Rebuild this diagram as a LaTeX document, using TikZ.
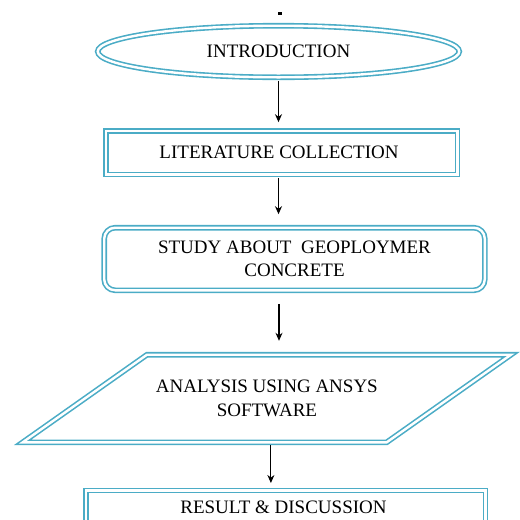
\documentclass[tikz,border=0pt]{standalone}
\usepackage{fontspec}
\setmainfont{Liberation Serif}
\usetikzlibrary{shapes.geometric,arrows.meta}
\definecolor{aqua}{HTML}{4BACC6}
\tikzset{
  dbl/.style={draw=aqua, line width=1.6pt, double=white, double distance=2.4pt},
  txt/.style={font=\fontsize{19}{23.5}\selectfont, align=center, inner sep=0pt},
  arr/.style={draw=black, line width=1.1pt, -{Stealth[length=8pt,width=7pt]}},
}
\begin{document}
\begin{tikzpicture}[x=1pt,y=-1pt]
\useasboundingbox (0,0) rectangle (520,520);
\fill[black] (277.5,12) rectangle (281.5,14.5);
\node[dbl, txt, ellipse, minimum width=361.6pt, minimum height=51.6pt] (intro) at (278.5,51.5) {INTRODUCTION};
\node[dbl, txt, rectangle, minimum width=351.6pt, minimum height=43.6pt] (lit) at (281.5,152.5) {\hspace*{-5pt}LITERATURE COLLECTION};
\node[dbl, txt, rectangle, rounded corners=11pt, minimum width=380.6pt, minimum height=62.6pt] (study) at (294.5,259) {STUDY ABOUT\ \ GEOPLOYMER\\CONCRETE};
\node[txt, rectangle, minimum width=300pt, minimum height=87.6pt] (ana) at (266.9,398.5) {ANALYSIS USING ANSYS\\SOFTWARE};
\draw[dbl, line join=miter] (147,354.7) -- (511,354.7) -- (386.7,442.3) -- (22.7,442.3) -- cycle;
\node[dbl, txt, rectangle, anchor=north, minimum width=399.6pt, text height=12pt, text depth=30pt, inner ysep=11pt] (res) at (285.5,489.7) {\hspace*{-4pt}RESULT \& DISCUSSION};
\draw[arr, shorten <=2.7pt, shorten >=7.7pt] (intro.south) -- (intro.south |- lit.north);
\draw[arr, shorten <=2.7pt, shorten >=12.7pt] (lit.south -| intro.south) -- (intro.south |- study.north);
\draw[arr, shorten <=12.7pt, shorten >=13.7pt] ([xshift=0.5pt]study.south -| intro.south) -- ([xshift=0.5pt]intro.south |- ana.north);
\draw[arr, shorten <=2.7pt, shorten >=6.7pt] ([xshift=4pt]ana.south) -- ([xshift=4pt]ana.south |- res.north);
\end{tikzpicture}
\end{document}
